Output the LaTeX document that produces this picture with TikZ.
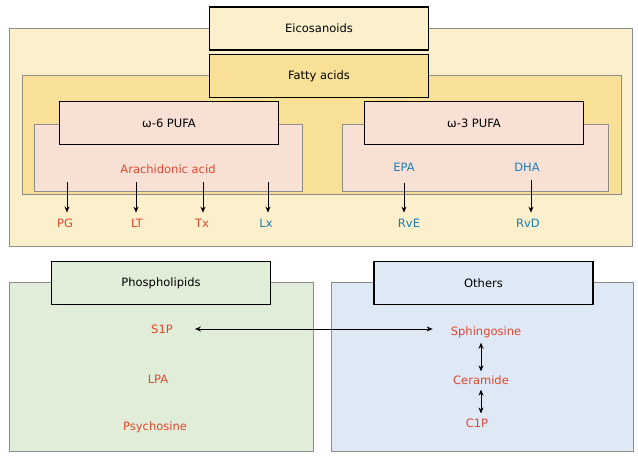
\documentclass[tikz,border=0pt]{standalone}
\usepackage{fontspec}
\setmainfont{DejaVu Sans}
\usepackage{xcolor}
\usepackage{tikz}
\usetikzlibrary{arrows.meta}
\definecolor{cream}{HTML}{FCEFCC}
\definecolor{gold}{HTML}{F9E097}
\definecolor{pinkish}{HTML}{F8E1D4}
\definecolor{greenish}{HTML}{E0EDD8}
\definecolor{blueish}{HTML}{DFE8F5}
\definecolor{framegray}{HTML}{8C8C8C}
\definecolor{redtext}{HTML}{E0472F}
\definecolor{bluetext}{HTML}{1A7DB4}

\begin{document}
\begin{tikzpicture}[x = 1pt, y = -1pt, font = \fontsize{11.5}{13}\selectfont,
	panel/.style = {draw = framegray, line width = 0.9pt},
	header/.style = {draw = black, line width = 1.7pt, minimum width = 219pt, minimum height = 43pt, inner sep = 0pt},
	lbl/.style = {inner sep = 0pt},
	arr/.style = {-{Stealth[length = 6pt, width = 5pt]}, line width = 0.9pt, shorten > = 6pt},
	dbl/.style = {{Stealth[length = 6pt, width = 5pt]}-{Stealth[length = 6pt, width = 5pt]}, line width = 0.9pt}]
	\useasboundingbox (0,0) rectangle (638,460);
	\fill[white] (0,0) rectangle (638,460);
	\path[panel, fill = cream] (9,28) rectangle (632,246);
	\node[header, fill = cream] (eico) at (319,28.5) {Eicosanoids};
	\path[panel, fill = gold] (22,75) rectangle (621,194);
	\node[header, fill = gold] (fatty) at (319,76) {Fatty acids};
	\path[panel, fill = pinkish] (34,124) rectangle (302,191);
	\path[panel, fill = pinkish] (342,124) rectangle (608,191);
	\node[header, fill = pinkish] (omega6) at (169,123) {ω-6 PUFA};
	\node[header, fill = pinkish] (omega3) at (474,123) {ω-3 PUFA};
	\node[lbl, text = redtext] (aa) at (168,169) {Arachidonic acid};
	\node[lbl, text = bluetext] (epa) at (404,167) {EPA};
	\node[lbl, text = bluetext] (dha) at (527,167) {DHA};
	\foreach \name/\x/\ax/\ay/\txt/\col in {pg/65/67/182/PG/redtext, lt/137/136/182/LT/redtext, tx/202/203/182/Tx/redtext, lx/266/268/182/Lx/bluetext, rve/409/404/183/RvE/bluetext, rvd/528/531/180/RvD/bluetext}{
		\node[lbl, text = \col] (\name) at (\x,223) {\txt};
		\coordinate (from-\name) at (\ax,\ay);
		\draw[arr] (from-\name) -- (from-\name |- \name.north);}
	\path[panel, fill = greenish] (9,282) rectangle (313,451);
	\path[panel, fill = blueish] (331,282) rectangle (633,451);
	\node[header, fill = greenish] (phospho) at (161,283) {Phospholipids};
	\node[header, fill = blueish] (others) at (483.5,283) {Others};
	\foreach \name/\x/\y/\txt in {s1p/162/329/S1P, lpa/158/379/LPA, psy/155/427/Psychosine, sph/486/332/Sphingosine, cer/481/380/Ceramide, c1p/477/423/C1P}{
		\node[lbl, text = redtext] (\name) at (\x,\y) {\txt};}
	\draw[dbl, shorten < = 22pt, shorten > = 18pt] (s1p.east) -- (s1p.east -| sph.west);
	\draw[dbl, shorten < = 5pt, shorten > = 4pt] (sph.south -| cer.north) -- (cer.north);
	\draw[dbl, shorten < = 5pt, shorten > = 5pt] (cer.south) -- (cer.south |- c1p.north);
\end{tikzpicture}
\end{document}
